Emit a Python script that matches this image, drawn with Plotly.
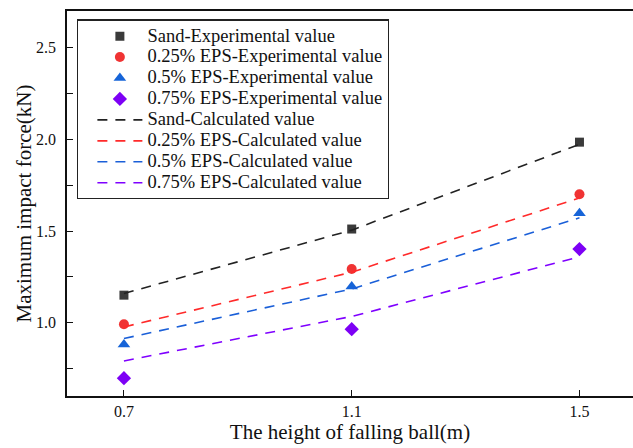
import plotly.graph_objects as go

# Drop heights of the ball (m)
heights = [0.7, 1.1, 1.5]

# Measured maximum impact force (kN)
sand_exp = [1.151, 1.511, 1.984]
eps025_exp = [0.993, 1.293, 1.700]
eps05_exp = [0.882, 1.198, 1.597]
eps075_exp = [0.699, 0.966, 1.402]

# Calculated maximum impact force (kN)
sand_calc = [1.160, 1.505, 1.972]
eps025_calc = [0.978, 1.276, 1.680]
eps05_calc = [0.915, 1.185, 1.572]
eps075_calc = [0.793, 1.035, 1.360]

x_ticks = [0.7, 1.1, 1.5]
y_ticks = [1.0, 1.5, 2.0, 2.5]

FONT = "Liberation Serif, Times New Roman, serif"

c_sand = "#3a3a3a"
c_025 = "#f03333"
c_05 = "#1664d8"
c_075 = "#7d00f5"


def legend_label(text):
    # larger glyphs than the legend's base font keeps the rows compact
    return f'<span style="font-size:18.5px">{text}</span>'


fig = go.Figure()

exp_series = [
    ("Sand-Experimental value", sand_exp, c_sand, "square", 9),
    ("0.25% EPS-Experimental value", eps025_exp, c_025, "circle", 10),
    ("0.5% EPS-Experimental value", eps05_exp, c_05, "triangle-up", 11),
    ("0.75% EPS-Experimental value", eps075_exp, c_075, "diamond", 11),
]
for name, vals, col, sym, sz in exp_series:
    fig.add_trace(go.Scatter(
        x=heights, y=vals, mode="markers", name=legend_label(name),
        marker=dict(symbol=sym, size=sz, color=col, line=dict(width=0)),
    ))

calc_series = [
    ("Sand-Calculated value", sand_calc, "#222222"),
    ("0.25% EPS-Calculated value", eps025_calc, "#ff2a2a"),
    ("0.5% EPS-Calculated value", eps05_calc, "#1a5fd8"),
    ("0.75% EPS-Calculated value", eps075_calc, "#7f00ff"),
]
for name, vals, col in calc_series:
    fig.add_trace(go.Scatter(
        x=heights, y=vals, mode="lines", name=legend_label(name),
        line=dict(color=col, width=1.6, dash="10px,8px"),
    ))

fig.update_layout(
    width=633, height=448,
    margin=dict(l=67, r=0, t=11, b=52),
    plot_bgcolor="white", paper_bgcolor="white",
    font=dict(family=FONT, color="#111111"),
    showlegend=True,
    legend=dict(
        x=0.018, y=0.978, xanchor="left", yanchor="top",
        bgcolor="white", bordercolor="#222222", borderwidth=1.2,
        font=dict(family=FONT, size=13.8, color="#111111"),
        itemwidth=45, tracegroupgap=0, indentation=14,
    ),
    xaxis=dict(
        range=[0.6, 1.594],
        tickvals=x_ticks, ticktext=[f"{v:.1f}" for v in x_ticks],
        ticks="inside", ticklen=6, tickwidth=1.2, tickcolor="#111111",
        showline=True, linecolor="#111111", linewidth=1.5, mirror=True,
        showgrid=False, zeroline=False,
        tickfont=dict(family=FONT, size=16),
        title=dict(text="The height of falling ball(m)",
                   font=dict(family=FONT, size=21), standoff=3),
    ),
    yaxis=dict(
        range=[0.602, 2.698],
        tickvals=y_ticks, ticktext=[f"{v:.1f}" for v in y_ticks],
        ticks="inside", ticklen=6, tickwidth=1.2, tickcolor="#111111",
        minor=dict(tickvals=[0.75, 1.25, 1.75, 2.25], ticks="inside",
                   ticklen=6, tickwidth=1.2, tickcolor="#111111"),
        showline=True, linecolor="#111111", linewidth=1.5, mirror=False,
        showgrid=False, zeroline=False,
        tickfont=dict(family=FONT, size=16),
        ticklabelstandoff=6,
    ),
    annotations=[dict(
        text="Maximum impact force(kN)", textangle=-90,
        xref="paper", yref="paper", x=-0.076, y=0.5,
        xanchor="center", yanchor="middle", showarrow=False,
        font=dict(family=FONT, size=21, color="#111111"),
    )],
)

fig.write_html("out.html")
